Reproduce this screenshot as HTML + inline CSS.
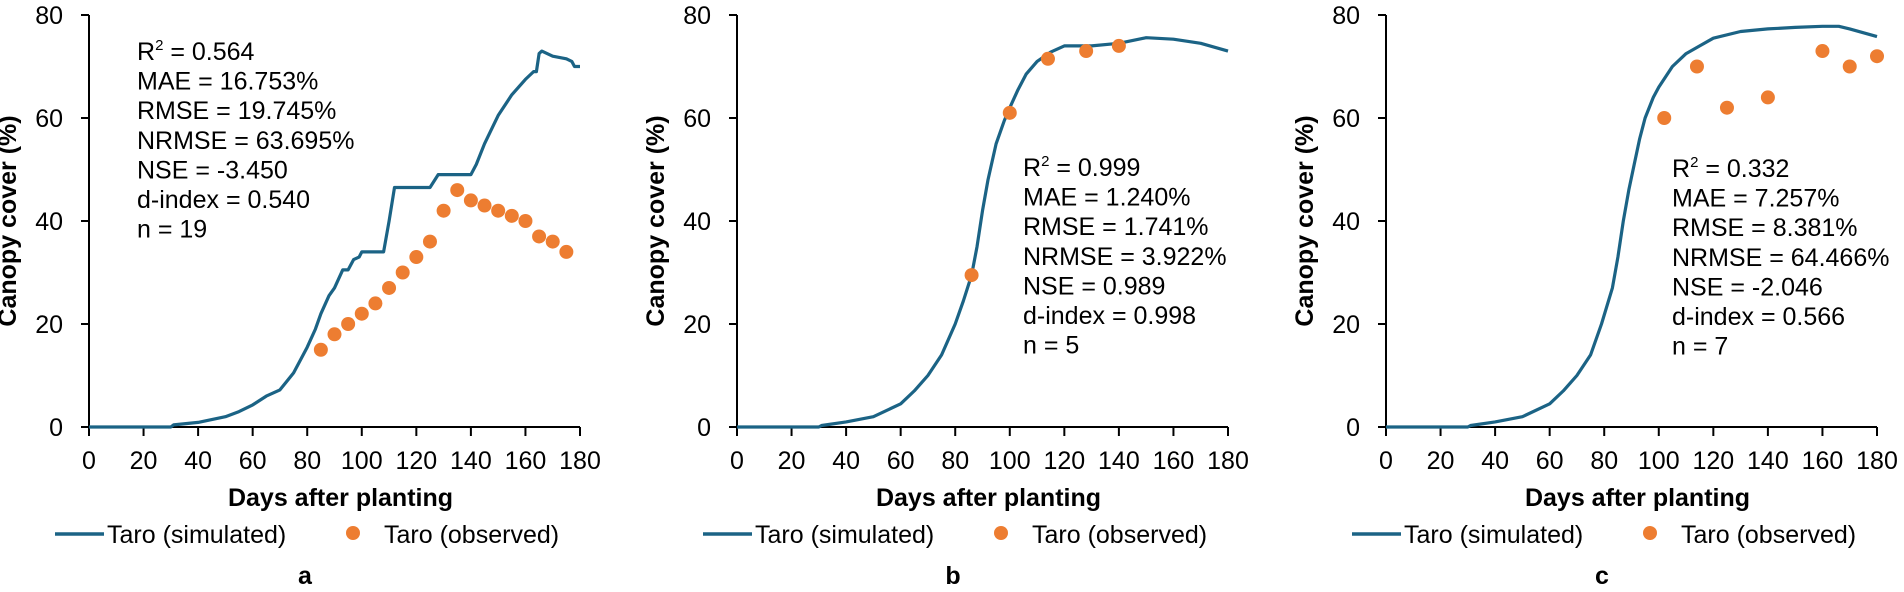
<!DOCTYPE html>
<html><head><meta charset="utf-8">
<style>
html,body{margin:0;padding:0;background:#fff;}
svg{display:block;font-family:"Liberation Sans",Arial,sans-serif;}
</style></head>
<body>
<svg id="chart" width="1904" height="592" viewBox="0 0 1904 592" xmlns="http://www.w3.org/2000/svg"></svg>
<script>
// x-axis ticks and y-axis ticks
const xTicks = [0,20,40,60,80,100,120,140,160,180];
const yTicks = [0,20,40,60,80];

// Panel a
const simDaysA = [0,30,31,40,50,55,60,65,70,75,80,83,85,88,90,93,95,97,99,100,108,110,112,125,128,140,142,145,150,155,160,163,164,165,166,170,175,177,178,180];
const simValsA = [0,0,0.4,0.9,2,3,4.3,6,7.2,10.5,15.5,19,22,25.5,27,30.5,30.5,32.5,33,34,34,40,46.5,46.5,49,49,51,55,60.5,64.5,67.5,69,69,72.5,73,72,71.5,71,70,70];
const obsDaysA = [85,90,95,100,105,110,115,120,125,130,135,140,145,150,155,160,165,170,175];
const obsValsA = [15,18,20,22,24,27,30,33,36,42,46,44,43,42,41,40,37,36,34];
const statsA = ["R\u00B2 = 0.564","MAE = 16.753%","RMSE = 19.745%","NRMSE = 63.695%","NSE = -3.450","d-index = 0.540","n = 19"];

// Panel b
const simDaysB = [0,30,31,40,50,60,65,70,75,80,83,86,88,90,92,95,98,100,103,106,110,115,120,130,140,150,160,170,180];
const simValsB = [0,0,0.3,1,2,4.5,7,10,14,20,24.5,29.5,35,42,48,55,59.5,62,65.5,68.5,71,72.8,74,74,74.5,75.6,75.3,74.5,73];
const obsDaysB = [86,100,114,128,140];
const obsValsB = [29.5,61,71.5,73,74];
const statsB = ["R\u00B2 = 0.999","MAE = 1.240%","RMSE = 1.741%","NRMSE = 3.922%","NSE = 0.989","d-index = 0.998","n = 5"];

// Panel c
const simDaysC = [0,30,31,40,50,60,65,70,75,79,83,85,87,89,91,93,95,98,100,105,110,115,120,130,140,150,160,166,170,180];
const simValsC = [0,0,0.3,1,2,4.5,7,10,14,20,27,33,40,46,51,56,60,64,66,70,72.5,74,75.5,76.8,77.3,77.6,77.8,77.8,77.3,75.8];
const obsDaysC = [102,114,125,140,160,170,180];
const obsValsC = [60,70,62,64,73,70,72];
const statsC = ["R\u00B2 = 0.332","MAE = 7.257%","RMSE = 8.381%","NRMSE = 64.466%","NSE = -2.046","d-index = 0.566","n = 7"];

const NS = "http://www.w3.org/2000/svg";
const svg = document.getElementById("chart");
const LINE = "#1b6385", DOT = "#ed7d31";
function mk(tag, attrs, parent, txt){
  const e = document.createElementNS(NS, tag);
  for (const k in attrs) e.setAttribute(k, attrs[k]);
  if (txt !== undefined) e.textContent = txt;
  parent.appendChild(e);
  return e;
}

const panels = [
  {x0:89, letter:"a", sd:simDaysA, sv:simValsA, od:obsDaysA, ov:obsValsA, st:statsA, tx:137, ty:51},
  {x0:737, letter:"b", sd:simDaysB, sv:simValsB, od:obsDaysB, ov:obsValsB, st:statsB, tx:1023, ty:167},
  {x0:1386, letter:"c", sd:simDaysC, sv:simValsC, od:obsDaysC, ov:obsValsC, st:statsC, tx:1672, ty:168}
];
const W = 491, yTop = 15, yBot = 427;

panels.forEach(p => {
  const g = mk("g", {}, svg);
  
  
  const sx = d => p.x0 + d / 180 * W;
  const sy = v => yBot - v / 80 * (yBot - yTop);

  const ax = mk("path", {d:`M${p.x0},${yTop}V${yBot}H${p.x0+W}`, fill:"none", stroke:"#000", "stroke-width":2}, g);
  
  
  yTicks.forEach(t => {
    mk("line", {x1:p.x0-8, x2:p.x0, y1:sy(t), y2:sy(t), stroke:"#000", "stroke-width":2}, g);
    const l = mk("text", {x:p.x0-26, y:sy(t)+9, "text-anchor":"end", "font-size":25}, g, t);
    
    
  });
  xTicks.forEach(t => {
    mk("line", {x1:sx(t), x2:sx(t), y1:yBot, y2:yBot+9, stroke:"#000", "stroke-width":2}, g);
    const l = mk("text", {x:sx(t), y:469, "text-anchor":"middle", "font-size":25}, g, t);
    
    
  });
  const yt = mk("text", {x:0, y:0, transform:`translate(${p.x0-73},221) rotate(-90)`, "text-anchor":"middle", "font-size":25, "font-weight":"bold"}, g, "Canopy cover (%)");
  
  
  const xt = mk("text", {x:p.x0+W/2+6, y:506, "text-anchor":"middle", "font-size":25, "font-weight":"bold"}, g, "Days after planting");
  
  

  const d = p.sd.map((v,i) => (i?"L":"M") + sx(v).toFixed(1) + "," + sy(p.sv[i]).toFixed(1)).join("");
  const ln = mk("path", {d:d, fill:"none", stroke:LINE, "stroke-width":3.2, "stroke-linejoin":"round"}, g);
  
  
  p.od.forEach((v,i) => {
    const c = mk("circle", {cx:sx(v), cy:sy(p.ov[i]), r:7, fill:DOT}, g);
    
    
  });

  p.st.forEach((s,i) => {
    const t = mk("text", {x:p.tx, y:p.ty + i*29.6 + 9, "font-size":25}, g);
    if (s.startsWith("R\u00B2")) {
      t.textContent = "R";
      mk("tspan", {"font-size":15, dy:-10}, t, "2");
      mk("tspan", {dy:10}, t, s.slice(2));
    } else t.textContent = s;
    
    
  });

  const lg = mk("g", {}, g);
  
  
  mk("line", {x1:p.x0-34, x2:p.x0+15, y1:534, y2:534, stroke:LINE, "stroke-width":3.5}, lg);
  const l1 = mk("text", {x:p.x0+18, y:543, "font-size":25}, lg, "Taro (simulated)");
  
  
  mk("circle", {cx:p.x0+264, cy:533, r:7, fill:DOT}, lg);
  const l2 = mk("text", {x:p.x0+295, y:543, "font-size":25}, lg, "Taro (observed)");
  
  

  const pl = mk("text", {x:p.x0+216, y:584, "text-anchor":"middle", "font-size":25, "font-weight":"bold"}, g, p.letter);
  
  
});
</script>
</body></html>
